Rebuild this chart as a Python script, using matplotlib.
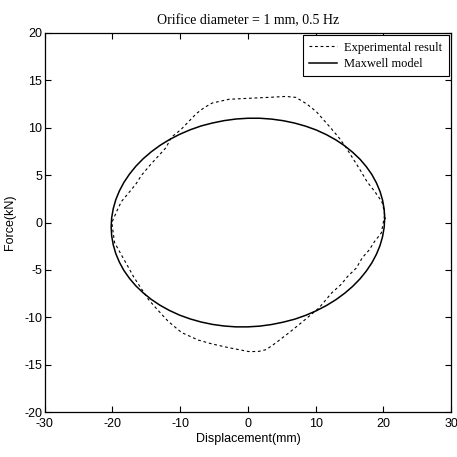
import numpy as np
import matplotlib
matplotlib.use("Agg")
import matplotlib.pyplot as plt

plt.rcParams["axes.unicode_minus"] = False

# -------- DATA --------
exp_x = [20.2, 19.9, 19.4, 18.7, 17.6, 16.7, 16.0, 14.5, 13.5, 12.2, 10.1, 8.7,
         7.1, 5.6, 3.0, 0.0, -2.8, -5.3, -6.5, -7.6, -9.9, -11.3, -12.1, -14.4,
         -15.7, -16.6, -18.7, -19.3, -20.1, -19.7, -18.7, -17.9, -16.9, -15.9,
         -14.7, -13.6, -11.8, -9.8, -7.3, -5.3, -2.8, 0.1, 1.5, 2.7, 4.1, 6.1,
         8.0, 10.5, 12.4, 13.8, 14.7, 16.0, 16.9, 17.9, 18.7, 19.7, 20.2]
exp_y = [0.8, 2.0, 2.6, 3.3, 4.3, 5.4, 6.2, 7.9, 8.9, 10.0, 11.7, 12.5,
         13.2, 13.3, 13.2, 13.1, 13.0, 12.6, 12.1, 11.5, 9.8, 9.0, 7.9, 6.1,
         5.0, 4.0, 2.2, 1.3, 0.0, -2.1, -3.4, -4.4, -5.7, -6.8,
         -8.1, -9.0, -10.4, -11.6, -12.4, -12.8, -13.2, -13.6, -13.6, -13.4, -12.7, -11.6,
         -10.5, -9.0, -7.4, -6.5, -5.7, -4.8, -3.7, -2.9, -2.0, -1.1, 0.8]

max_x = [20.2, 20.12, 19.89, 19.51, 18.98, 18.31, 17.49, 16.55, 15.47, 14.28,
         12.98, 11.59, 10.1, 8.54, 6.91, 5.23, 3.51, 1.76, 0.0,
         -1.76, -3.51, -5.23, -6.91, -8.54, -10.1, -11.59, -12.98, -14.28,
         -15.47, -16.55, -17.49, -18.31, -18.98, -19.51, -19.89, -20.12, -20.2,
         -20.12, -19.89, -19.51, -18.98, -18.31, -17.49, -16.55, -15.47, -14.28,
         -12.98, -11.59, -10.1, -8.54, -6.91, -5.23, -3.51, -1.76, 0.0,
         1.76, 3.51, 5.23, 6.91, 8.54, 10.1, 11.59, 12.98, 14.28,
         15.47, 16.55, 17.49, 18.31, 18.98, 19.51, 19.89, 20.12, 20.2]
max_y = [0.45, 1.41, 2.35, 3.28, 4.18, 5.06, 5.89, 6.68, 7.41, 8.10,
         8.72, 9.27, 9.76, 10.16, 10.49, 10.74, 10.91, 11.0, 11.0,
         10.92, 10.75, 10.5, 10.19, 9.78, 9.3, 8.75, 8.14, 7.46,
         6.73, 5.94, 5.11, 4.24, 3.34, 2.42, 1.47, 0.51, -0.45,
         -1.41, -2.35, -3.28, -4.18, -5.06, -5.89, -6.68, -7.41, -8.10,
         -8.72, -9.27, -9.76, -10.16, -10.49, -10.74, -10.91, -11.0, -11.0,
         -10.92, -10.75, -10.5, -10.19, -9.78, -9.3, -8.75, -8.14, -7.46,
         -6.73, -5.94, -5.11, -4.24, -3.34, -2.42, -1.47, -0.51, 0.45]

xticks = [-30, -20, -10, 0, 10, 20, 30]
yticks = [-20, -15, -10, -5, 0, 5, 10, 15, 20]

# -------- PLOT --------
fig = plt.figure(figsize=(4.57, 4.57), dpi=100)
ax = fig.add_axes([0.098, 0.098, 0.889, 0.830])

ax.plot(exp_x, exp_y, color="black", linestyle=(0, (2.5, 2.5)), linewidth=0.8,
        label="Experimental result")
ax.plot(max_x, max_y, color="black", linewidth=1.1, label="Maxwell model")

ax.set_xlim(-30, 30)
ax.set_ylim(-20, 20)
ax.set_xticks(xticks)
ax.set_yticks(yticks)
ax.tick_params(direction="in", top=True, right=True, length=4, width=0.8,
               labelsize=9)
ax.tick_params(axis="x", pad=4)
ax.tick_params(axis="y", pad=2)
for lab in ax.get_xticklabels() + ax.get_yticklabels():
    lab.set_family("Liberation Sans")
for s in ax.spines.values():
    s.set_linewidth(0.9)

ax.set_xlabel("Displacement(mm)", family="Liberation Sans", fontsize=9, labelpad=2)
ax.set_ylabel("Force(kN)", family="Liberation Sans", fontsize=9, labelpad=6)
ax.set_title("Orifice diameter = 1 mm, 0.5 Hz", family="Liberation Serif",
             fontsize=10, pad=6)

leg = ax.legend(loc="upper right", prop={"family": "Liberation Serif", "size": 9},
                fancybox=False, edgecolor="black", framealpha=1,
                handlelength=2.2, handletextpad=0.6, borderpad=0.5,
                labelspacing=0.35, borderaxespad=0.2)
leg.get_frame().set_linewidth(0.8)

fig.savefig("out.png", dpi=100)
